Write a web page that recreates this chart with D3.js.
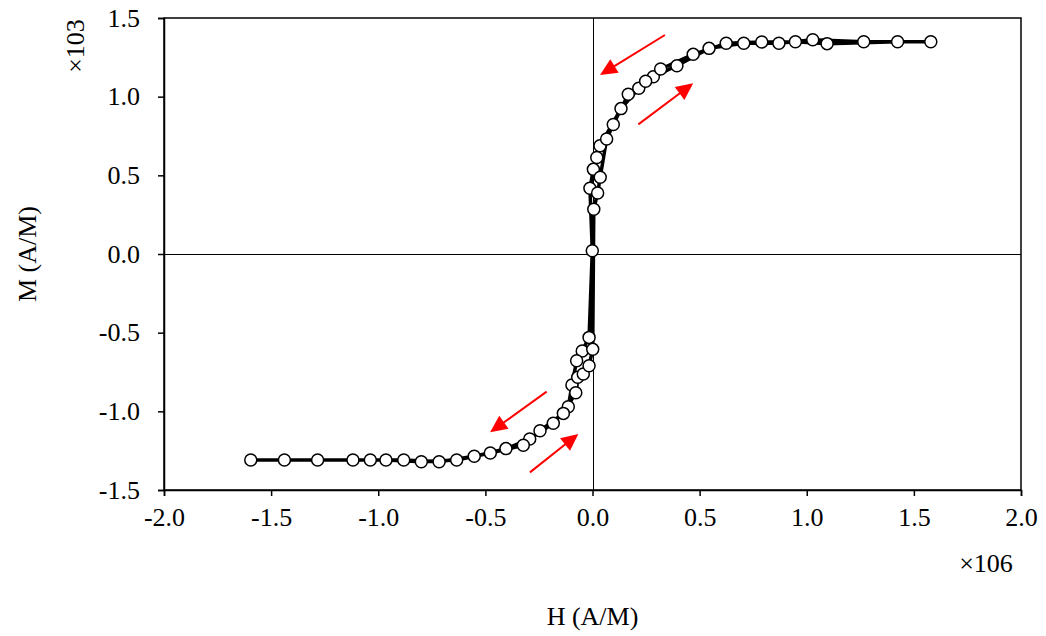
<!DOCTYPE html>
<html><head><meta charset="utf-8">
<script src="https://cdn.jsdelivr.net/npm/d3@7"></script>
<style>body{margin:0;background:#fff}svg{display:block}text{font-family:"Liberation Serif","Times New Roman",serif}</style>
</head><body><svg id="c" width="1046" height="636"></svg>
<script>
// Magnetisation loop: H (×10^6 A/M), M (×10^3 A/M), in path order
const H = [1.579,1.266,1.028,0.870,0.706,0.544,0.394,0.284,0.216,0.133,0.035,0.020,0.004,-0.012,-0.001,-0.016,-0.048,-0.074,-0.096,-0.113,-0.183,-0.293,-0.404,-0.552,-0.716,-0.881,-1.037,-1.283,-1.595,
  -1.438,-1.118,-0.964,-0.799,-0.634,-0.477,-0.323,-0.245,-0.136,-0.078,-0.069,-0.043,-0.016,0.001,0.006,0.024,0.036,0.066,0.097,0.167,0.248,0.318,0.470,0.624,0.790,0.947,1.095,1.424];
const M = [1.349,1.349,1.362,1.339,1.339,1.307,1.197,1.127,1.053,0.924,0.688,0.613,0.538,0.418,0.021,-0.530,-0.617,-0.678,-0.833,-0.971,-1.076,-1.176,-1.237,-1.286,-1.320,-1.309,-1.309,-1.309,-1.309,
  -1.309,-1.309,-1.309,-1.320,-1.309,-1.265,-1.216,-1.123,-1.013,-0.882,-0.784,-0.763,-0.710,-0.606,0.284,0.388,0.488,0.731,0.823,1.015,1.098,1.176,1.269,1.339,1.347,1.349,1.337,1.349];
const xTicks = [-2.0,-1.5,-1.0,-0.5,0.0,0.5,1.0,1.5,2.0];
const yTicks = [-1.5,-1.0,-0.5,0.0,0.5,1.0,1.5];
// arrows: start and tip, in data units
const arrowFrom = [[0.338,1.392],[0.214,0.824],[-0.214,-0.875],[-0.292,-1.388]];
const arrowTo   = [[0.035,1.138],[0.470,1.085],[-0.478,-1.133],[-0.066,-1.144]];

const svg = d3.select("#c");
const L=164,R=1021,T=18,B=490;
const x = d3.scaleLinear().domain([-2,2]).range([L,R]);
const y = d3.scaleLinear().domain([-1.5,1.5]).range([B,T]);
const fmt = d => d.toFixed(1);
const FS = 26;

// frame
svg.append("rect").attr("x",L).attr("y",T).attr("width",R-L).attr("height",B-T)
  .attr("fill","none").attr("stroke","#000").attr("stroke-width",1.5);
// zero lines
svg.append("line").attr("x1",L).attr("x2",R).attr("y1",Math.round(y(0))+0.5).attr("y2",Math.round(y(0))+0.5).attr("stroke","#000").attr("stroke-width",1);
svg.append("line").attr("x1",Math.round(x(0))+0.5).attr("x2",Math.round(x(0))+0.5).attr("y1",T).attr("y2",B).attr("stroke","#000").attr("stroke-width",1);

const xa = svg.append("g").attr("transform",`translate(0,${B})`)
  .call(d3.axisBottom(x).tickValues(xTicks).tickFormat(fmt).tickSize(6).tickPadding(12));
const ya = svg.append("g").attr("transform",`translate(${L},0)`)
  .call(d3.axisLeft(y).tickValues(yTicks).tickFormat(fmt).tickSize(6).tickPadding(18));
[xa,ya].forEach(a=>{
  a.attr("font-family",null);
  a.select(".domain").attr("stroke","#000").attr("stroke-width",1.5);
  a.selectAll(".tick line").attr("stroke","#000").attr("stroke-width",1.5);
  a.selectAll("text").attr("font-size",FS).attr("fill","#000");
});

// arrows
arrowFrom.forEach((f,i)=>{
  const t = arrowTo[i];
  const x0=x(f[0]), y0=y(f[1]), x1=x(t[0]), y1=y(t[1]);
  const dx=x1-x0, dy=y1-y0, len=Math.hypot(dx,dy), ux=dx/len, uy=dy/len;
  const hl=17, hw=8;
  const bx=x1-ux*hl, by=y1-uy*hl;
  svg.append("line").attr("x1",x0).attr("y1",y0).attr("x2",bx+ux*2).attr("y2",by+uy*2)
    .attr("stroke","#ff0000").attr("stroke-width",2);
  svg.append("path").attr("d",`M${x1},${y1}L${bx-uy*hw},${by+ux*hw}L${bx+uy*hw},${by-ux*hw}Z`).attr("fill","#ff0000");
});

// data
const pts = H.map((h,i)=>[h,M[i]]);
svg.append("path").datum(pts)
  .attr("d",d3.line().x(d=>x(d[0])).y(d=>y(d[1])))
  .attr("fill","none").attr("stroke","#000").attr("stroke-width",3.5).attr("stroke-linejoin","round");
svg.selectAll("circle.p").data(pts).enter().append("circle").attr("class","p")
  .attr("cx",d=>x(d[0])).attr("cy",d=>y(d[1])).attr("r",6)
  .attr("fill","#fff").attr("stroke","#000").attr("stroke-width",1.5);

// labels
svg.append("text").attr("transform",`translate(36,${y(0)}) rotate(-90)`).attr("text-anchor","middle")
  .attr("font-size",FS).text("M (A/M)");
svg.append("text").attr("x",x(0)).attr("y",625).attr("text-anchor","middle").attr("font-size",FS).text("H (A/M)");
svg.append("text").attr("transform",`translate(84,46) rotate(-90)`).attr("text-anchor","middle")
  .attr("font-size",FS).text("×103");
svg.append("text").attr("x",986).attr("y",572).attr("text-anchor","middle").attr("font-size",FS).text("×106");
</script></body></html>
